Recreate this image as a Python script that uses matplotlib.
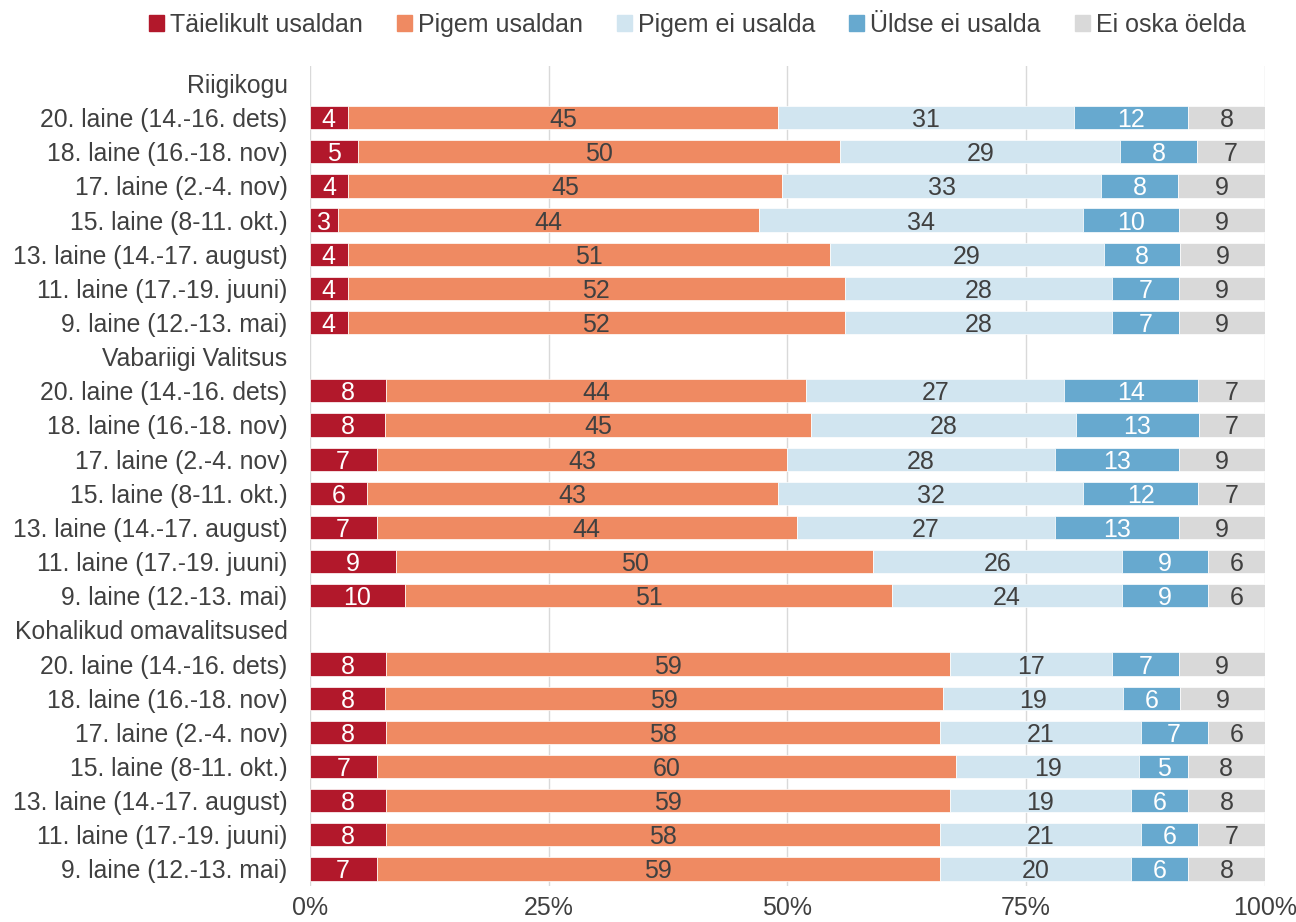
import matplotlib
matplotlib.use('Agg')

import matplotlib.pyplot as plt
import numpy as np

plt.rcParams['font.family'] = ['Liberation Sans', 'DejaVu Sans']

categories = ['Täielikult usaldan', 'Pigem usaldan', 'Pigem ei usalda', 'Üldse ei usalda', 'Ei oska öelda']
colors = ['#B2182B', '#EF8A62', '#D1E5F0', '#67A9CF', '#D9D9D9']
text_colors = ['white', '#404040', '#404040', 'white', '#404040']

waves = ['20. laine (14.-16. dets)', '18. laine (16.-18. nov)', '17. laine (2.-4. nov)',
         '15. laine (8-11. okt.)', '13. laine (14.-17. august)', '11. laine (17.-19. juuni)',
         '9. laine (12.-13. mai)']
groups = ['Riigikogu', 'Vabariigi Valitsus', 'Kohalikud omavalitsused']

# rows: one list per wave, values in category order
riigikogu = [[4, 45, 31, 12, 8],
             [5, 50, 29, 8, 7],
             [4, 45, 33, 8, 9],
             [3, 44, 34, 10, 9],
             [4, 51, 29, 8, 9],
             [4, 52, 28, 7, 9],
             [4, 52, 28, 7, 9]]
valitsus = [[8, 44, 27, 14, 7],
            [8, 45, 28, 13, 7],
            [7, 43, 28, 13, 9],
            [6, 43, 32, 12, 7],
            [7, 44, 27, 13, 9],
            [9, 50, 26, 9, 6],
            [10, 51, 24, 9, 6]]
omavalitsused = [[8, 59, 17, 7, 9],
                 [8, 59, 19, 6, 9],
                 [8, 58, 21, 7, 6],
                 [7, 60, 19, 5, 8],
                 [8, 59, 19, 6, 8],
                 [8, 58, 21, 6, 7],
                 [7, 59, 20, 6, 8]]

# build row list top to bottom, header rows get no bars
labels = []
rows = []
for g, data in zip(groups, [riigikogu, valitsus, omavalitsused]):
    labels.append(g)
    rows.append(None)
    for w, vals in zip(waves, data):
        labels.append(w)
        rows.append(vals)

n = len(labels)
ypos = np.arange(n)[::-1]

fig = plt.figure(figsize=(12.96, 9.22), dpi=100)
ax = fig.add_axes([0.239, 0.039, 0.737, 0.889])

for y, vals in zip(ypos, rows):
    if vals is None:
        continue
    vals = np.array(vals, dtype=float)
    pct = vals / vals.sum() * 100
    left = 0
    for i, (v, p) in enumerate(zip(vals, pct)):
        ax.barh(y, p, left=left, height=0.68, color=colors[i], edgecolor='white',
                linewidth=0.5, zorder=2)
        ax.text(left + p / 2, y, '%d' % v, ha='center', va='center_baseline',
                color=text_colors[i], fontsize=18, zorder=3)
        left += p

ax.set_xlim(0, 100)
ax.set_ylim(-0.5, n - 0.5)
ax.set_yticks(ypos)
ax.set_yticklabels(labels, fontsize=17.8, color='#404040')
ax.set_xticks([0, 25, 50, 75, 100])
ax.set_xticklabels(['0%', '25%', '50%', '75%', '100%'], fontsize=18, color='#404040')
ax.tick_params(axis='both', length=0)
ax.tick_params(axis='x', pad=7)
ax.tick_params(axis='y', pad=16)
ax.grid(axis='x', color='#D9D9D9', linewidth=1, zorder=0)
ax.set_axisbelow(True)
for s in ax.spines.values():
    s.set_visible(False)

handles = [plt.Rectangle((0, 0), 1, 1, color=c) for c in colors]
fig.legend(handles, categories, loc='center', bbox_to_anchor=(0.538, 0.973), ncol=5,
           frameon=False, fontsize=18, handlelength=0.6, handleheight=0.6,
           handletextpad=0.25, columnspacing=1.35, labelcolor='#404040')

fig.savefig('out.png', dpi=100)
